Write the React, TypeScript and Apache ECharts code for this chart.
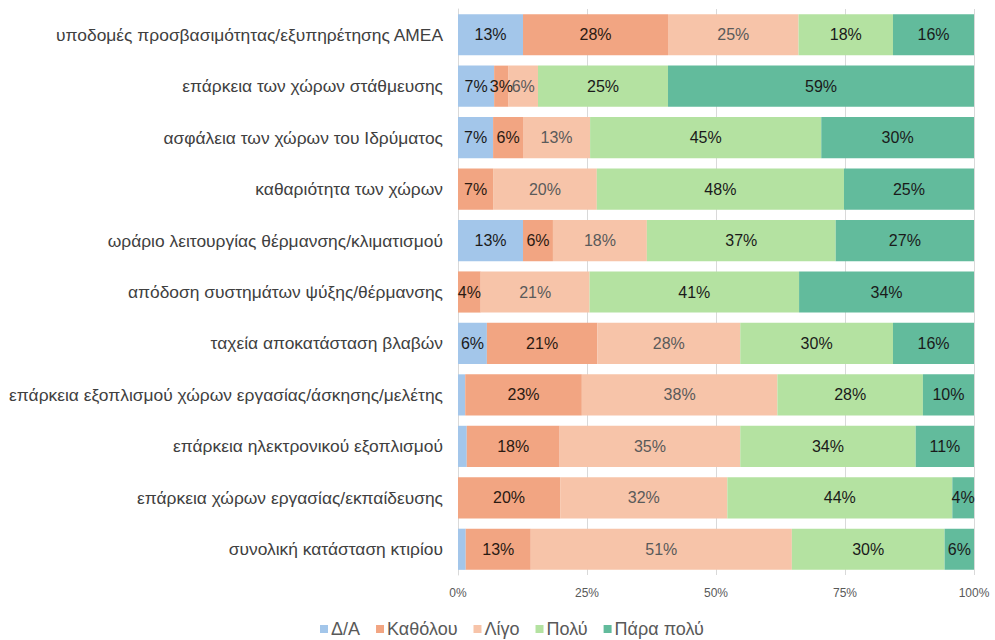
import React, { useEffect, useRef } from "react";
import * as echarts from "echarts";

const categories = [
  "υποδομές προσβασιμότητας/εξυπηρέτησης ΑΜΕΑ",
  "επάρκεια των χώρων στάθμευσης",
  "ασφάλεια των χώρων του Ιδρύματος",
  "καθαριότητα των χώρων",
  "ωράριο λειτουργίας θέρμανσης/κλιματισμού",
  "απόδοση συστημάτων ψύξης/θέρμανσης",
  "ταχεία αποκατάσταση βλαβών",
  "επάρκεια εξοπλισμού χώρων εργασίας/άσκησης/μελέτης",
  "επάρκεια ηλεκτρονικού εξοπλισμού",
  "επάρκεια χώρων εργασίας/εκπαίδευσης",
  "συνολική κατάσταση κτιρίου",
];

const seriesNames = ["Δ/Α", "Καθόλου", "Λίγο", "Πολύ", "Πάρα πολύ"];

const dA = [12.6, 7.0, 6.8, 0, 12.6, 0, 5.6, 1.4, 1.7, 0, 1.5];
const katholou = [28.1, 2.8, 5.8, 6.8, 5.8, 4.4, 21.4, 22.6, 18.0, 19.8, 12.6];
const ligo = [25.3, 5.7, 13.0, 20.1, 18.2, 21.1, 27.7, 37.9, 35.0, 32.4, 50.6];
const poly = [18.3, 25.2, 44.8, 47.9, 36.6, 40.6, 29.6, 28.2, 34.0, 43.6, 29.6];
const paraPoly = [15.7, 59.3, 29.6, 25.2, 26.8, 33.9, 15.8, 9.9, 11.3, 4.2, 5.7];

const xTicks = ["0%", "25%", "50%", "75%", "100%"];

const colors = ["#a3c6ea", "#f2a582", "#f7c4a9", "#b4e2a1", "#62bb9c"];
const labelColors = ["#1a1a1a", "#2a1a12", "#5a5a5a", "#1a1a1a", "#1a1a1a"];

const FONT = "'Liberation Sans', Arial, Helvetica, sans-serif";

export default function App() {
  const ref = useRef<HTMLDivElement>(null);

  useEffect(() => {
    if (!ref.current) return;
    const chart = echarts.init(ref.current, undefined, { renderer: "svg" });
    const allData = [dA, katholou, ligo, poly, paraPoly];
    chart.setOption({
      animation: false,
      textStyle: { fontFamily: FONT },
      legend: {
        top: 620,
        left: 320,
        padding: 0,
        itemWidth: 8,
        itemHeight: 8,
        itemGap: 16,
        icon: "rect",
        textStyle: { fontSize: 18, color: "#595959", fontFamily: FONT, padding: [0, 0, 0, -2] },
        data: seriesNames,
      },
      grid: { left: 458, right: 21, top: 9, bottom: 65, containLabel: false },
      xAxis: {
        type: "value",
        min: 0,
        max: 100,
        interval: 25,
        axisLine: { show: false },
        axisTick: { show: false },
        splitLine: { show: true, lineStyle: { color: "#d9d9d9", width: 1 } },
        axisLabel: {
          color: "#595959",
          fontSize: 12,
          margin: 12,
          fontFamily: FONT,
          formatter: (v: number) => xTicks[Math.round(v / 25)],
        },
      },
      yAxis: {
        type: "category",
        inverse: true,
        data: categories,
        axisLine: { show: true, lineStyle: { color: "#d9d9d9" } },
        axisTick: { show: false },
        axisLabel: { color: "#404040", fontSize: 17.4, margin: 15, fontFamily: FONT },
      },
      series: seriesNames.map((name, i) => ({
        name,
        type: "bar",
        stack: "total",
        barCategoryGap: "20%",
        itemStyle: { color: colors[i] },
        label: {
          show: true,
          position: "inside",
          color: labelColors[i],
          fontSize: 16,
          fontFamily: FONT,
          formatter: (p: any) => (p.value < 2 ? "" : Math.round(p.value) + "%"),
        },
        data: allData[i],
      })),
    });
    return () => chart.dispose();
  }, []);

  return (
    <div
      ref={ref}
      style={{ position: "absolute", left: 0, top: 0, width: 995, height: 640 }}
    />
  );
}
